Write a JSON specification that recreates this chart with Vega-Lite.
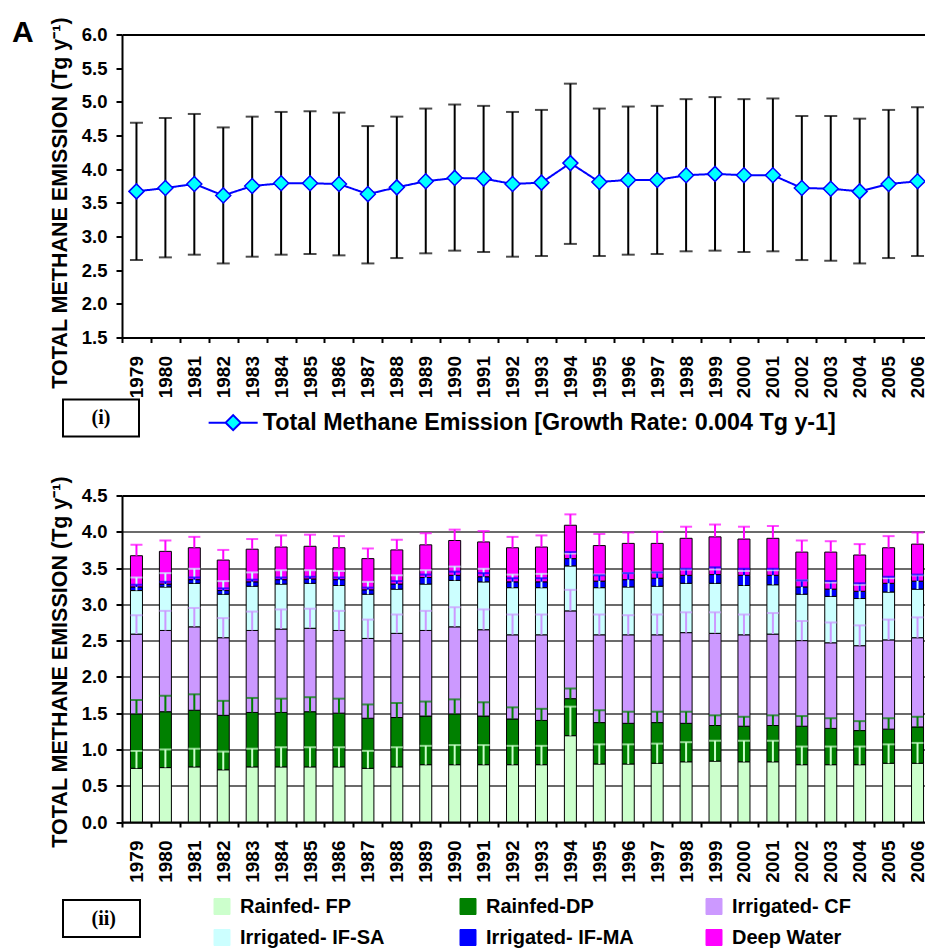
{
  "$schema": "https://vega.github.io/schema/vega-lite/v6.json",
  "background": "white",
  "padding": {"left": 12, "top": 16.5, "right": -6, "bottom": 0},
  "spacing": 158,
  "bounds": "flush",
  "resolve": {"scale": {"fill": "independent", "strokeDash": "independent", "color": "independent", "stroke": "independent"},
              "legend": {"fill": "independent", "strokeDash": "independent"}},
  "config": {
    "view": {"stroke": null},
    "font": "Liberation Sans",
    "axis": {"labelFont": "Liberation Sans", "titleFont": "Liberation Sans", "labelColor": "black", "titleColor": "black", "labelFontWeight": "bold", "titleFontWeight": "bold", "domainColor": "black", "tickColor": "black", "domainWidth": 2, "tickWidth": 2},
    "legend": {"labelFont": "Liberation Sans", "labelColor": "black", "labelFontWeight": "bold", "labelLimit": 1000, "strokeWidth": 2}
  },
  "datasets": {
    "total": [
      {"year": "1979", "mean": 3.67, "lo": 2.65, "hi": 4.69},
      {"year": "1980", "mean": 3.72, "lo": 2.69, "hi": 4.76},
      {"year": "1981", "mean": 3.78, "lo": 2.73, "hi": 4.82},
      {"year": "1982", "mean": 3.61, "lo": 2.60, "hi": 4.62},
      {"year": "1983", "mean": 3.75, "lo": 2.70, "hi": 4.78},
      {"year": "1984", "mean": 3.79, "lo": 2.73, "hi": 4.85},
      {"year": "1985", "mean": 3.79, "lo": 2.74, "hi": 4.86},
      {"year": "1986", "mean": 3.78, "lo": 2.72, "hi": 4.84},
      {"year": "1987", "mean": 3.63, "lo": 2.60, "hi": 4.64},
      {"year": "1988", "mean": 3.73, "lo": 2.68, "hi": 4.78},
      {"year": "1989", "mean": 3.82, "lo": 2.75, "hi": 4.90},
      {"year": "1990", "mean": 3.87, "lo": 2.79, "hi": 4.96},
      {"year": "1991", "mean": 3.86, "lo": 2.77, "hi": 4.94},
      {"year": "1992", "mean": 3.78, "lo": 2.70, "hi": 4.85},
      {"year": "1993", "mean": 3.80, "lo": 2.71, "hi": 4.88},
      {"year": "1994", "mean": 4.09, "lo": 2.89, "hi": 5.27},
      {"year": "1995", "mean": 3.81, "lo": 2.71, "hi": 4.90},
      {"year": "1996", "mean": 3.84, "lo": 2.73, "hi": 4.93},
      {"year": "1997", "mean": 3.84, "lo": 2.74, "hi": 4.94},
      {"year": "1998", "mean": 3.91, "lo": 2.78, "hi": 5.04},
      {"year": "1999", "mean": 3.93, "lo": 2.79, "hi": 5.07},
      {"year": "2000", "mean": 3.91, "lo": 2.77, "hi": 5.04},
      {"year": "2001", "mean": 3.91, "lo": 2.78, "hi": 5.05},
      {"year": "2002", "mean": 3.72, "lo": 2.65, "hi": 4.79},
      {"year": "2003", "mean": 3.71, "lo": 2.64, "hi": 4.79},
      {"year": "2004", "mean": 3.67, "lo": 2.60, "hi": 4.75},
      {"year": "2005", "mean": 3.78, "lo": 2.68, "hi": 4.88},
      {"year": "2006", "mean": 3.82, "lo": 2.71, "hi": 4.92}
    ],
    "segs": [
      {"year": "1979", "type": "Rainfed- FP", "base": 0, "top": 0.74, "cap": 0.98},
      {"year": "1979", "type": "Rainfed-DP", "base": 0.74, "top": 1.49, "cap": 1.68},
      {"year": "1979", "type": "Irrigated- CF", "base": 1.49, "top": 2.59, "cap": 2.85},
      {"year": "1979", "type": "Irrigated- IF-SA", "base": 2.59, "top": 3.19, "cap": 3.37},
      {"year": "1979", "type": "Irrigated- IF-MA", "base": 3.19, "top": 3.24, "cap": 3.27},
      {"year": "1979", "type": "Deep Water", "base": 3.24, "top": 3.67, "cap": 3.82},
      {"year": "1980", "type": "Rainfed- FP", "base": 0, "top": 0.75, "cap": 1.00},
      {"year": "1980", "type": "Rainfed-DP", "base": 0.75, "top": 1.52, "cap": 1.74},
      {"year": "1980", "type": "Irrigated- CF", "base": 1.52, "top": 2.64, "cap": 2.91},
      {"year": "1980", "type": "Irrigated- IF-SA", "base": 2.64, "top": 3.24, "cap": 3.43},
      {"year": "1980", "type": "Irrigated- IF-MA", "base": 3.24, "top": 3.28, "cap": 3.31},
      {"year": "1980", "type": "Deep Water", "base": 3.28, "top": 3.73, "cap": 3.88},
      {"year": "1981", "type": "Rainfed- FP", "base": 0, "top": 0.76, "cap": 1.01},
      {"year": "1981", "type": "Rainfed-DP", "base": 0.76, "top": 1.54, "cap": 1.76},
      {"year": "1981", "type": "Irrigated- CF", "base": 1.54, "top": 2.69, "cap": 2.95},
      {"year": "1981", "type": "Irrigated- IF-SA", "base": 2.69, "top": 3.29, "cap": 3.49},
      {"year": "1981", "type": "Irrigated- IF-MA", "base": 3.29, "top": 3.34, "cap": 3.37},
      {"year": "1981", "type": "Deep Water", "base": 3.34, "top": 3.78, "cap": 3.93},
      {"year": "1982", "type": "Rainfed- FP", "base": 0, "top": 0.72, "cap": 0.97},
      {"year": "1982", "type": "Rainfed-DP", "base": 0.72, "top": 1.47, "cap": 1.67},
      {"year": "1982", "type": "Irrigated- CF", "base": 1.47, "top": 2.54, "cap": 2.81},
      {"year": "1982", "type": "Irrigated- IF-SA", "base": 2.54, "top": 3.14, "cap": 3.32},
      {"year": "1982", "type": "Irrigated- IF-MA", "base": 3.14, "top": 3.19, "cap": 3.22},
      {"year": "1982", "type": "Deep Water", "base": 3.19, "top": 3.61, "cap": 3.75},
      {"year": "1983", "type": "Rainfed- FP", "base": 0, "top": 0.76, "cap": 1.01},
      {"year": "1983", "type": "Rainfed-DP", "base": 0.76, "top": 1.51, "cap": 1.71},
      {"year": "1983", "type": "Irrigated- CF", "base": 1.51, "top": 2.64, "cap": 2.90},
      {"year": "1983", "type": "Irrigated- IF-SA", "base": 2.64, "top": 3.25, "cap": 3.44},
      {"year": "1983", "type": "Irrigated- IF-MA", "base": 3.25, "top": 3.31, "cap": 3.34},
      {"year": "1983", "type": "Deep Water", "base": 3.31, "top": 3.76, "cap": 3.90},
      {"year": "1984", "type": "Rainfed- FP", "base": 0, "top": 0.76, "cap": 1.03},
      {"year": "1984", "type": "Rainfed-DP", "base": 0.76, "top": 1.51, "cap": 1.70},
      {"year": "1984", "type": "Irrigated- CF", "base": 1.51, "top": 2.66, "cap": 2.93},
      {"year": "1984", "type": "Irrigated- IF-SA", "base": 2.66, "top": 3.28, "cap": 3.47},
      {"year": "1984", "type": "Irrigated- IF-MA", "base": 3.28, "top": 3.34, "cap": 3.37},
      {"year": "1984", "type": "Deep Water", "base": 3.34, "top": 3.79, "cap": 3.95},
      {"year": "1985", "type": "Rainfed- FP", "base": 0, "top": 0.76, "cap": 1.03},
      {"year": "1985", "type": "Rainfed-DP", "base": 0.76, "top": 1.52, "cap": 1.72},
      {"year": "1985", "type": "Irrigated- CF", "base": 1.52, "top": 2.67, "cap": 2.94},
      {"year": "1985", "type": "Irrigated- IF-SA", "base": 2.67, "top": 3.29, "cap": 3.47},
      {"year": "1985", "type": "Irrigated- IF-MA", "base": 3.29, "top": 3.35, "cap": 3.38},
      {"year": "1985", "type": "Deep Water", "base": 3.35, "top": 3.80, "cap": 3.96},
      {"year": "1986", "type": "Rainfed- FP", "base": 0, "top": 0.76, "cap": 1.03},
      {"year": "1986", "type": "Rainfed-DP", "base": 0.76, "top": 1.50, "cap": 1.70},
      {"year": "1986", "type": "Irrigated- CF", "base": 1.50, "top": 2.64, "cap": 2.91},
      {"year": "1986", "type": "Irrigated- IF-SA", "base": 2.64, "top": 3.26, "cap": 3.46},
      {"year": "1986", "type": "Irrigated- IF-MA", "base": 3.26, "top": 3.34, "cap": 3.37},
      {"year": "1986", "type": "Deep Water", "base": 3.34, "top": 3.78, "cap": 3.94},
      {"year": "1987", "type": "Rainfed- FP", "base": 0, "top": 0.74, "cap": 0.98},
      {"year": "1987", "type": "Rainfed-DP", "base": 0.74, "top": 1.43, "cap": 1.62},
      {"year": "1987", "type": "Irrigated- CF", "base": 1.43, "top": 2.53, "cap": 2.79},
      {"year": "1987", "type": "Irrigated- IF-SA", "base": 2.53, "top": 3.14, "cap": 3.31},
      {"year": "1987", "type": "Irrigated- IF-MA", "base": 3.14, "top": 3.20, "cap": 3.23},
      {"year": "1987", "type": "Deep Water", "base": 3.20, "top": 3.63, "cap": 3.77},
      {"year": "1988", "type": "Rainfed- FP", "base": 0, "top": 0.76, "cap": 1.03},
      {"year": "1988", "type": "Rainfed-DP", "base": 0.76, "top": 1.44, "cap": 1.64},
      {"year": "1988", "type": "Irrigated- CF", "base": 1.44, "top": 2.60, "cap": 2.86},
      {"year": "1988", "type": "Irrigated- IF-SA", "base": 2.60, "top": 3.21, "cap": 3.40},
      {"year": "1988", "type": "Irrigated- IF-MA", "base": 3.21, "top": 3.28, "cap": 3.32},
      {"year": "1988", "type": "Deep Water", "base": 3.28, "top": 3.75, "cap": 3.89},
      {"year": "1989", "type": "Rainfed- FP", "base": 0, "top": 0.79, "cap": 1.05},
      {"year": "1989", "type": "Rainfed-DP", "base": 0.79, "top": 1.46, "cap": 1.66},
      {"year": "1989", "type": "Irrigated- CF", "base": 1.46, "top": 2.64, "cap": 2.91},
      {"year": "1989", "type": "Irrigated- IF-SA", "base": 2.64, "top": 3.28, "cap": 3.47},
      {"year": "1989", "type": "Irrigated- IF-MA", "base": 3.28, "top": 3.37, "cap": 3.41},
      {"year": "1989", "type": "Deep Water", "base": 3.37, "top": 3.82, "cap": 3.98},
      {"year": "1990", "type": "Rainfed- FP", "base": 0, "top": 0.79, "cap": 1.06},
      {"year": "1990", "type": "Rainfed-DP", "base": 0.79, "top": 1.49, "cap": 1.69},
      {"year": "1990", "type": "Irrigated- CF", "base": 1.49, "top": 2.69, "cap": 2.96},
      {"year": "1990", "type": "Irrigated- IF-SA", "base": 2.69, "top": 3.33, "cap": 3.52},
      {"year": "1990", "type": "Irrigated- IF-MA", "base": 3.33, "top": 3.40, "cap": 3.45},
      {"year": "1990", "type": "Deep Water", "base": 3.40, "top": 3.88, "cap": 4.03},
      {"year": "1991", "type": "Rainfed- FP", "base": 0, "top": 0.79, "cap": 1.06},
      {"year": "1991", "type": "Rainfed-DP", "base": 0.79, "top": 1.46, "cap": 1.65},
      {"year": "1991", "type": "Irrigated- CF", "base": 1.46, "top": 2.65, "cap": 2.93},
      {"year": "1991", "type": "Irrigated- IF-SA", "base": 2.65, "top": 3.31, "cap": 3.49},
      {"year": "1991", "type": "Irrigated- IF-MA", "base": 3.31, "top": 3.38, "cap": 3.43},
      {"year": "1991", "type": "Deep Water", "base": 3.38, "top": 3.86, "cap": 4.01},
      {"year": "1992", "type": "Rainfed- FP", "base": 0, "top": 0.79, "cap": 1.05},
      {"year": "1992", "type": "Rainfed-DP", "base": 0.79, "top": 1.42, "cap": 1.58},
      {"year": "1992", "type": "Irrigated- CF", "base": 1.42, "top": 2.58, "cap": 2.86},
      {"year": "1992", "type": "Irrigated- IF-SA", "base": 2.58, "top": 3.23, "cap": 3.41},
      {"year": "1992", "type": "Irrigated- IF-MA", "base": 3.23, "top": 3.31, "cap": 3.36},
      {"year": "1992", "type": "Deep Water", "base": 3.31, "top": 3.78, "cap": 3.93},
      {"year": "1993", "type": "Rainfed- FP", "base": 0, "top": 0.79, "cap": 1.05},
      {"year": "1993", "type": "Rainfed-DP", "base": 0.79, "top": 1.40, "cap": 1.56},
      {"year": "1993", "type": "Irrigated- CF", "base": 1.40, "top": 2.58, "cap": 2.86},
      {"year": "1993", "type": "Irrigated- IF-SA", "base": 2.58, "top": 3.23, "cap": 3.42},
      {"year": "1993", "type": "Irrigated- IF-MA", "base": 3.23, "top": 3.31, "cap": 3.36},
      {"year": "1993", "type": "Deep Water", "base": 3.31, "top": 3.79, "cap": 3.95},
      {"year": "1994", "type": "Rainfed- FP", "base": 0, "top": 1.19, "cap": 1.59},
      {"year": "1994", "type": "Rainfed-DP", "base": 1.19, "top": 1.70, "cap": 1.84},
      {"year": "1994", "type": "Irrigated- CF", "base": 1.70, "top": 2.91, "cap": 3.20},
      {"year": "1994", "type": "Irrigated- IF-SA", "base": 2.91, "top": 3.53, "cap": 3.70},
      {"year": "1994", "type": "Irrigated- IF-MA", "base": 3.53, "top": 3.63, "cap": 3.72},
      {"year": "1994", "type": "Deep Water", "base": 3.63, "top": 4.09, "cap": 4.24},
      {"year": "1995", "type": "Rainfed- FP", "base": 0, "top": 0.80, "cap": 1.07},
      {"year": "1995", "type": "Rainfed-DP", "base": 0.80, "top": 1.37, "cap": 1.54},
      {"year": "1995", "type": "Irrigated- CF", "base": 1.37, "top": 2.58, "cap": 2.86},
      {"year": "1995", "type": "Irrigated- IF-SA", "base": 2.58, "top": 3.23, "cap": 3.41},
      {"year": "1995", "type": "Irrigated- IF-MA", "base": 3.23, "top": 3.32, "cap": 3.40},
      {"year": "1995", "type": "Deep Water", "base": 3.32, "top": 3.81, "cap": 3.97},
      {"year": "1996", "type": "Rainfed- FP", "base": 0, "top": 0.80, "cap": 1.07},
      {"year": "1996", "type": "Rainfed-DP", "base": 0.80, "top": 1.36, "cap": 1.52},
      {"year": "1996", "type": "Irrigated- CF", "base": 1.36, "top": 2.58, "cap": 2.85},
      {"year": "1996", "type": "Irrigated- IF-SA", "base": 2.58, "top": 3.24, "cap": 3.43},
      {"year": "1996", "type": "Irrigated- IF-MA", "base": 3.24, "top": 3.34, "cap": 3.43},
      {"year": "1996", "type": "Deep Water", "base": 3.34, "top": 3.84, "cap": 3.99},
      {"year": "1997", "type": "Rainfed- FP", "base": 0, "top": 0.81, "cap": 1.08},
      {"year": "1997", "type": "Rainfed-DP", "base": 0.81, "top": 1.37, "cap": 1.52},
      {"year": "1997", "type": "Irrigated- CF", "base": 1.37, "top": 2.58, "cap": 2.86},
      {"year": "1997", "type": "Irrigated- IF-SA", "base": 2.58, "top": 3.25, "cap": 3.44},
      {"year": "1997", "type": "Irrigated- IF-MA", "base": 3.25, "top": 3.36, "cap": 3.44},
      {"year": "1997", "type": "Deep Water", "base": 3.36, "top": 3.84, "cap": 4.00},
      {"year": "1998", "type": "Rainfed- FP", "base": 0, "top": 0.83, "cap": 1.10},
      {"year": "1998", "type": "Rainfed-DP", "base": 0.83, "top": 1.36, "cap": 1.52},
      {"year": "1998", "type": "Irrigated- CF", "base": 1.36, "top": 2.61, "cap": 2.89},
      {"year": "1998", "type": "Irrigated- IF-SA", "base": 2.61, "top": 3.29, "cap": 3.48},
      {"year": "1998", "type": "Irrigated- IF-MA", "base": 3.29, "top": 3.40, "cap": 3.49},
      {"year": "1998", "type": "Deep Water", "base": 3.40, "top": 3.91, "cap": 4.07},
      {"year": "1999", "type": "Rainfed- FP", "base": 0, "top": 0.84, "cap": 1.12},
      {"year": "1999", "type": "Rainfed-DP", "base": 0.84, "top": 1.33, "cap": 1.47},
      {"year": "1999", "type": "Irrigated- CF", "base": 1.33, "top": 2.60, "cap": 2.89},
      {"year": "1999", "type": "Irrigated- IF-SA", "base": 2.60, "top": 3.29, "cap": 3.48},
      {"year": "1999", "type": "Irrigated- IF-MA", "base": 3.29, "top": 3.41, "cap": 3.51},
      {"year": "1999", "type": "Deep Water", "base": 3.41, "top": 3.93, "cap": 4.10},
      {"year": "2000", "type": "Rainfed- FP", "base": 0, "top": 0.83, "cap": 1.12},
      {"year": "2000", "type": "Rainfed-DP", "base": 0.83, "top": 1.32, "cap": 1.45},
      {"year": "2000", "type": "Irrigated- CF", "base": 1.32, "top": 2.58, "cap": 2.86},
      {"year": "2000", "type": "Irrigated- IF-SA", "base": 2.58, "top": 3.26, "cap": 3.46},
      {"year": "2000", "type": "Irrigated- IF-MA", "base": 3.26, "top": 3.40, "cap": 3.49},
      {"year": "2000", "type": "Deep Water", "base": 3.40, "top": 3.90, "cap": 4.07},
      {"year": "2001", "type": "Rainfed- FP", "base": 0, "top": 0.83, "cap": 1.12},
      {"year": "2001", "type": "Rainfed-DP", "base": 0.83, "top": 1.33, "cap": 1.47},
      {"year": "2001", "type": "Irrigated- CF", "base": 1.33, "top": 2.59, "cap": 2.88},
      {"year": "2001", "type": "Irrigated- IF-SA", "base": 2.59, "top": 3.27, "cap": 3.47},
      {"year": "2001", "type": "Irrigated- IF-MA", "base": 3.27, "top": 3.40, "cap": 3.49},
      {"year": "2001", "type": "Deep Water", "base": 3.40, "top": 3.91, "cap": 4.08},
      {"year": "2002", "type": "Rainfed- FP", "base": 0, "top": 0.79, "cap": 1.04},
      {"year": "2002", "type": "Rainfed-DP", "base": 0.79, "top": 1.32, "cap": 1.46},
      {"year": "2002", "type": "Irrigated- CF", "base": 1.32, "top": 2.50, "cap": 2.77},
      {"year": "2002", "type": "Irrigated- IF-SA", "base": 2.50, "top": 3.14, "cap": 3.33},
      {"year": "2002", "type": "Irrigated- IF-MA", "base": 3.14, "top": 3.24, "cap": 3.33},
      {"year": "2002", "type": "Deep Water", "base": 3.24, "top": 3.72, "cap": 3.88},
      {"year": "2003", "type": "Rainfed- FP", "base": 0, "top": 0.79, "cap": 1.04},
      {"year": "2003", "type": "Rainfed-DP", "base": 0.79, "top": 1.29, "cap": 1.43},
      {"year": "2003", "type": "Irrigated- CF", "base": 1.29, "top": 2.47, "cap": 2.75},
      {"year": "2003", "type": "Irrigated- IF-SA", "base": 2.47, "top": 3.11, "cap": 3.30},
      {"year": "2003", "type": "Irrigated- IF-MA", "base": 3.11, "top": 3.21, "cap": 3.32},
      {"year": "2003", "type": "Deep Water", "base": 3.21, "top": 3.72, "cap": 3.87},
      {"year": "2004", "type": "Rainfed- FP", "base": 0, "top": 0.79, "cap": 1.04},
      {"year": "2004", "type": "Rainfed-DP", "base": 0.79, "top": 1.26, "cap": 1.39},
      {"year": "2004", "type": "Irrigated- CF", "base": 1.26, "top": 2.43, "cap": 2.71},
      {"year": "2004", "type": "Irrigated- IF-SA", "base": 2.43, "top": 3.08, "cap": 3.27},
      {"year": "2004", "type": "Irrigated- IF-MA", "base": 3.08, "top": 3.18, "cap": 3.29},
      {"year": "2004", "type": "Deep Water", "base": 3.18, "top": 3.68, "cap": 3.83},
      {"year": "2005", "type": "Rainfed- FP", "base": 0, "top": 0.81, "cap": 1.07},
      {"year": "2005", "type": "Rainfed-DP", "base": 0.81, "top": 1.28, "cap": 1.43},
      {"year": "2005", "type": "Irrigated- CF", "base": 1.28, "top": 2.51, "cap": 2.79},
      {"year": "2005", "type": "Irrigated- IF-SA", "base": 2.51, "top": 3.17, "cap": 3.36},
      {"year": "2005", "type": "Irrigated- IF-MA", "base": 3.17, "top": 3.29, "cap": 3.38},
      {"year": "2005", "type": "Deep Water", "base": 3.29, "top": 3.78, "cap": 3.94},
      {"year": "2006", "type": "Rainfed- FP", "base": 0, "top": 0.81, "cap": 1.09},
      {"year": "2006", "type": "Rainfed-DP", "base": 0.81, "top": 1.31, "cap": 1.45},
      {"year": "2006", "type": "Irrigated- CF", "base": 1.31, "top": 2.54, "cap": 2.82},
      {"year": "2006", "type": "Irrigated- IF-SA", "base": 2.54, "top": 3.21, "cap": 3.40},
      {"year": "2006", "type": "Irrigated- IF-MA", "base": 3.21, "top": 3.32, "cap": 3.41},
      {"year": "2006", "type": "Deep Water", "base": 3.32, "top": 3.83, "cap": 3.99}
    ]
  },
  "vconcat": [
    {
      "width": 810,
      "height": 303,
      "title": {"text": "A", "anchor": "start", "frame": "group", "fontSize": 30, "fontWeight": "bold", "font": "Liberation Sans", "color": "black", "dx": -110, "offset": -55.5, "baseline": "alphabetic"},
      "data": {"name": "total"},
      "encoding": {
        "x": {"field": "year", "type": "ordinal", "scale": {"paddingInner": 0, "paddingOuter": 0},
              "axis": {"title": null, "labelAngle": -90, "labelFontSize": 19, "labelPadding": 13, "tickBand": "extent", "tickSize": 5}}
      },
      "layer": [
        {"mark": {"type": "rule", "color": "black", "strokeWidth": 2},
         "encoding": {
           "y": {"field": "lo", "type": "quantitative", "scale": {"domain": [1.5, 6], "nice": false, "zero": false},
                 "axis": {"title": "TOTAL METHANE EMISSION (Tg y⁻¹)", "titleFontSize": 21.5, "titleY": 168, "titlePadding": 10,
                          "values": [1.5, 2, 2.5, 3, 3.5, 4, 4.5, 5, 5.5, 6], "tickCount": 20, "format": ".1f", "labelFontSize": 18.5, "labelPadding": 9, "tickSize": 6,
                          "grid": true, "gridColor": "black", "gridWidth": 2,
                          "gridOpacity": {"condition": {"test": "datum.value > 5.9", "value": 1}, "value": 0}}},
           "y2": {"field": "hi"}}},
        {"mark": {"type": "tick", "color": "black", "thickness": 2, "size": 13},
         "encoding": {"y": {"field": "hi", "type": "quantitative"}}},
        {"mark": {"type": "tick", "color": "black", "thickness": 2, "size": 13},
         "encoding": {"y": {"field": "lo", "type": "quantitative"}}},
        {"mark": {"type": "line", "color": "#0000FF", "strokeWidth": 2},
         "encoding": {
           "y": {"field": "mean", "type": "quantitative"},
           "strokeDash": {"datum": "\u00a0\u00a0\u00a0\u00a0(i)\u00a0\u00a0\u00a0\u00a0\u200b", "scale": {"range": [[1, 0]]},
                          "legend": {"orient": "none", "legendX": -59, "legendY": 365, "title": null,
                                     "symbolSize": 0, "symbolOpacity": 0, "symbolStrokeWidth": 0,
                                     "labelFont": "Liberation Serif", "labelFontSize": 20, "labelOffset": 0,
                                     "padding": 8.5, "strokeColor": "black"}}}},
        {"mark": {"type": "point", "shape": "diamond", "filled": true, "size": 225, "stroke": "#0000FF", "strokeWidth": 1.5, "opacity": 1},
         "encoding": {
           "y": {"field": "mean", "type": "quantitative"},
           "fill": {"datum": "Total Methane Emission [Growth Rate: 0.004 Tg y-1]", "scale": {"range": ["#00FFFF"]},
                    "legend": {"orient": "none", "legendX": 99.5, "legendY": 376.5, "title": null,
                               "symbolType": "M-3.27,0H-1M1,0H3.27M-1,0L0,-1L1,0L0,1Z", "symbolSize": 225,
                               "symbolStrokeColor": "#0000FF", "symbolStrokeWidth": 2,
                               "labelFontSize": 23.3, "labelOffset": 18, "padding": 0}}}}
      ]
    },
    {
      "width": 810,
      "height": 326.5,
      "data": {"name": "segs"},
      "encoding": {
        "x": {"field": "year", "type": "ordinal", "scale": {"paddingInner": 0, "paddingOuter": 0},
              "axis": {"title": null, "labelAngle": -90, "labelFontSize": 19, "labelPadding": 13, "tickBand": "extent", "tickSize": 5}}
      },
      "layer": [
        {"mark": {"type": "bar", "size": 12, "stroke": "black", "strokeWidth": 1},
         "encoding": {
           "y": {"field": "top", "type": "quantitative", "scale": {"domain": [0, 4.5], "nice": false},
                 "axis": {"title": "TOTAL METHANE EMISSION (Tg y⁻¹)", "titleFontSize": 21.5, "titleY": 166, "titlePadding": 10,
                          "values": [0, 0.5, 1, 1.5, 2, 2.5, 3, 3.5, 4, 4.5], "tickCount": 20, "format": ".1f", "labelFontSize": 18.5, "labelPadding": 9, "tickSize": 6,
                          "grid": true,
                          "gridColor": {"condition": {"test": "datum.value > 4.4", "value": "black"}, "value": "#3a3a3a"},
                          "gridWidth": {"condition": {"test": "datum.value > 4.4", "value": 2}, "value": 1.3}}},
           "y2": {"field": "base"},
           "fill": {"field": "type", "type": "nominal",
                    "scale": {"domain": ["Rainfed- FP", "Rainfed-DP", "Irrigated- CF", "Irrigated- IF-SA", "Irrigated- IF-MA", "Deep Water"],
                              "range": ["#CCFFCC", "#008000", "#CC99FF", "#CCFFFF", "#0000FF", "#FF00FF"]},
                    "legend": {"orient": "none", "legendX": 90, "legendY": 401, "title": null, "columns": 3, "direction": "horizontal",
                               "symbolType": "square", "symbolSize": 256, "symbolStrokeColor": "black", "symbolStrokeWidth": 1,
                               "labelFontSize": 20, "labelOffset": 8, "columnPadding": 70, "rowPadding": 11, "gridAlign": "all", "padding": 0}}}},
        {"mark": {"type": "rule", "strokeWidth": 2},
         "encoding": {
           "y": {"field": "top", "type": "quantitative"},
           "y2": {"field": "cap"},
           "stroke": {"field": "type", "type": "nominal",
                      "scale": {"domain": ["Rainfed- FP", "Rainfed-DP", "Irrigated- CF", "Irrigated- IF-SA", "Irrigated- IF-MA", "Deep Water"],
                                "range": ["#CCFFCC", "#008000", "#CC99FF", "#CCFFFF", "#0000FF", "#FF00FF"]},
                      "legend": null},
           "strokeDash": {"datum": "\u00a0\u00a0\u00a0(ii)\u00a0\u00a0\u00a0\u200b", "scale": {"range": [[1, 0]]},
                          "legend": {"orient": "none", "legendX": -59, "legendY": 404.5, "title": null,
                                     "symbolSize": 0, "symbolOpacity": 0, "symbolStrokeWidth": 0,
                                     "labelFont": "Liberation Serif", "labelFontSize": 20, "labelOffset": 0,
                                     "padding": 8.5, "strokeColor": "black"}}}},
        {"mark": {"type": "tick", "thickness": 2, "size": 12},
         "encoding": {
           "y": {"field": "cap", "type": "quantitative"},
           "color": {"field": "type", "type": "nominal",
                     "scale": {"domain": ["Rainfed- FP", "Rainfed-DP", "Irrigated- CF", "Irrigated- IF-SA", "Irrigated- IF-MA", "Deep Water"],
                               "range": ["#CCFFCC", "#008000", "#CC99FF", "#CCFFFF", "#0000FF", "#FF00FF"]},
                     "legend": null}}}
      ]
    }
  ]
}
